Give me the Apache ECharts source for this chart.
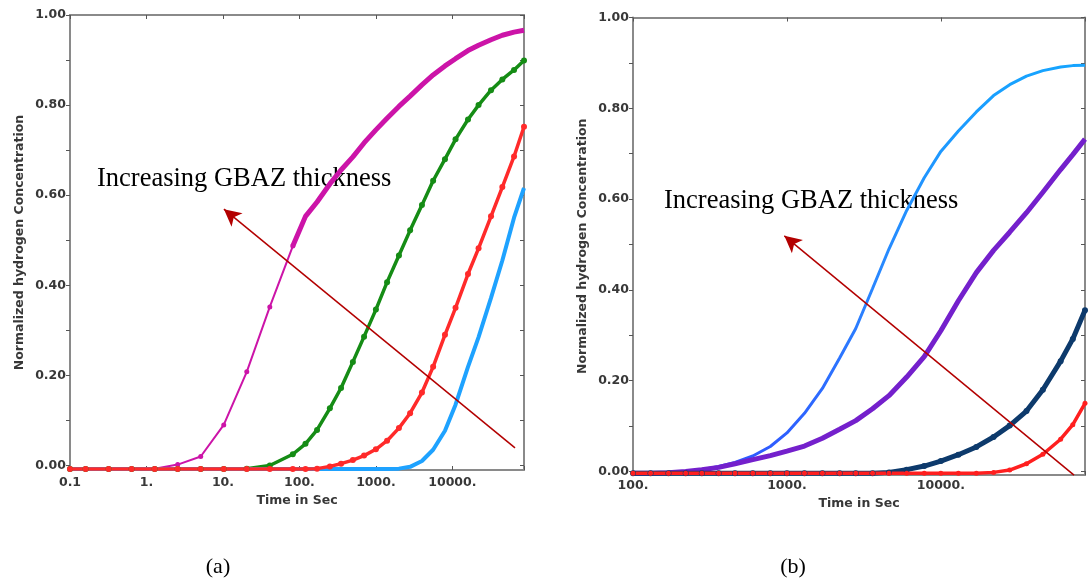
<!DOCTYPE html>
<html>
<head>
<meta charset="utf-8">
<title>Normalized hydrogen concentration vs time</title>
<script src="https://cdn.jsdelivr.net/npm/echarts@6/dist/echarts.min.js"></script>
<style>
  html, body { margin: 0; padding: 0; background: #fff; }
  #chart { width: 1088px; height: 586px; }
</style>
</head>
<body>
<div id="chart"></div>
<script>
// ---- panel (a) ----  (curves sit slightly under 0.00 before they start rising)
const timeA = [0.1, 0.16, 0.32, 0.64, 1.28, 2.56, 5.12, 10.24, 20.48, 40.96, 81.92, 120, 170, 250, 350, 500, 700,
  1000, 1400, 2000, 2800, 4000, 5600, 8000, 11000, 16000, 22000, 32000, 45000, 64000, 86400];
const magentaA = [-0.008, -0.008, -0.008, -0.008, -0.007, 0.002, 0.02, 0.09, 0.208, 0.352, 0.487, 0.553, 0.585, 0.625, 0.656, 0.685, 0.716,
  0.745, 0.771, 0.797, 0.82, 0.845, 0.867, 0.887, 0.903, 0.921, 0.933, 0.945, 0.955, 0.962, 0.966];
const greenA = [-0.008, -0.008, -0.008, -0.008, -0.008, -0.008, -0.008, -0.008, -0.007, 0.0, 0.025, 0.048, 0.079, 0.127, 0.172, 0.23, 0.286,
  0.346, 0.407, 0.466, 0.522, 0.578, 0.632, 0.68, 0.724, 0.768, 0.8, 0.833, 0.857, 0.878, 0.899];
const redA = [-0.008, -0.008, -0.008, -0.008, -0.008, -0.008, -0.008, -0.008, -0.008, -0.008, -0.008, -0.008, -0.007, -0.002, 0.004, 0.012, 0.022,
  0.036, 0.055, 0.083, 0.116, 0.162, 0.219, 0.29, 0.35, 0.425, 0.482, 0.553, 0.618, 0.686, 0.752];
const blueA = [-0.008, -0.008, -0.008, -0.008, -0.008, -0.008, -0.008, -0.008, -0.008, -0.008, -0.008, -0.008, -0.008, -0.008, -0.008, -0.008, -0.008,
  -0.008, -0.008, -0.007, -0.003, 0.01, 0.035, 0.077, 0.135, 0.219, 0.285, 0.372, 0.455, 0.55, 0.616];

// ---- panel (b) ----
const timeB = [100, 130, 170, 220, 280, 360, 460, 600, 780, 1000, 1300, 1700, 2200, 2800, 3600, 4600,
  6000, 7800, 10000, 13000, 17000, 22000, 28000, 36000, 46000, 60000, 72000, 86400];
const blueB = [-0.004, -0.004, -0.002, 0.0, 0.004, 0.011, 0.02, 0.034, 0.055, 0.085, 0.128, 0.183, 0.25, 0.315, 0.403, 0.49,
  0.575, 0.647, 0.705, 0.75, 0.792, 0.828, 0.852, 0.871, 0.883, 0.891, 0.894, 0.895];
const purpleB = [-0.004, -0.004, -0.003, 0.0, 0.004, 0.009, 0.017, 0.026, 0.035, 0.045, 0.056, 0.073, 0.093, 0.112, 0.138, 0.167,
  0.208, 0.253, 0.31, 0.376, 0.438, 0.487, 0.527, 0.57, 0.615, 0.665, 0.698, 0.732];
const navyB = [-0.004, -0.004, -0.004, -0.004, -0.004, -0.004, -0.004, -0.004, -0.004, -0.004, -0.004, -0.004, -0.004, -0.004, -0.004, -0.002,
  0.004, 0.012, 0.023, 0.037, 0.054, 0.076, 0.101, 0.133, 0.18, 0.243, 0.292, 0.355];
const redB = [-0.004, -0.004, -0.004, -0.004, -0.004, -0.004, -0.004, -0.004, -0.004, -0.004, -0.004, -0.004, -0.004, -0.004, -0.004, -0.004,
  -0.004, -0.004, -0.004, -0.004, -0.004, -0.002, 0.003, 0.017, 0.038, 0.071, 0.103, 0.15];

// axis labels
const xTicksA = [0.1, 1, 10, 100, 1000, 10000];
const xLabelsA = ['0.1', '1.', '10.', '100.', '1000.', '10000.'];
const xTicksB = [100, 1000, 10000];
const xLabelsB = ['100.', '1000.', '10000.'];
const yLabelVals = [0, 0.2, 0.4, 0.6, 0.8, 1.0];
const yTickVals = [0, 0.1, 0.2, 0.3, 0.4, 0.5, 0.6, 0.7, 0.8, 0.9, 1.0];

// annotation arrows (tail -> head), in data units
const arrowA = [[65900, 0.039], [10.3, 0.569]];
const arrowB = [[73300, -0.008], [962, 0.519]];
const noteText = 'Increasing GBAZ thickness';

const chart = echarts.init(document.getElementById('chart'));

const frameColor = '#8a8a8a';
const txt = { color: '#383838', fontFamily: 'DejaVu Sans', fontWeight: 'bold', fontSize: 12.5 };

function pairs(t, v, from, to) {
  const out = [];
  for (let i = from || 0; i < (to == null ? t.length : to); i++) out.push([t[i], v[i]]);
  return out;
}

function logLabel(ticks, labels) {
  return function (v) {
    for (let i = 0; i < ticks.length; i++) {
      if (Math.abs(v - ticks[i]) / ticks[i] < 1e-6) return labels[i];
    }
    return '';
  };
}

function xAxes(grid, min, max, ticks, labels, nameGap, margin) {
  return [
    {
      type: 'log', logBase: 10, gridIndex: grid, min: min, max: max, position: 'bottom',
      name: 'Time in Sec', nameLocation: 'middle', nameGap: nameGap, nameTextStyle: txt,
      axisLine: { onZero: false, lineStyle: { color: frameColor, width: 2 } },
      axisTick: { inside: true, length: 4, lineStyle: { color: '#555' } },
      axisLabel: Object.assign({ margin: margin, formatter: logLabel(ticks, labels),
        showMinLabel: true, showMaxLabel: true, hideOverlap: false }, txt),
      splitLine: { show: false }, minorTick: { show: false }
    },
    {
      type: 'log', logBase: 10, gridIndex: grid, min: min, max: max, position: 'top',
      axisLine: { onZero: false, lineStyle: { color: frameColor, width: 2 } },
      axisTick: { inside: true, length: 4, lineStyle: { color: '#555' } },
      axisLabel: { show: false }, splitLine: { show: false }
    }
  ];
}

function yAxes(grid, min) {
  return [
    {
      type: 'value', gridIndex: grid, min: min, max: 1, position: 'left',
      name: 'Normalized hydrogen Concentration', nameLocation: 'middle', nameGap: 44, nameTextStyle: txt,
      axisLine: { show: true, onZero: false, lineStyle: { color: frameColor, width: 2 } },
      axisTick: { show: true, inside: false, length: 4, customValues: yTickVals, lineStyle: { color: '#555' } },
      axisLabel: Object.assign({ margin: 4, customValues: yLabelVals, formatter: v => v.toFixed(2) }, txt),
      splitLine: { show: false }
    },
    {
      type: 'value', gridIndex: grid, min: min, max: 1, position: 'right',
      axisLine: { show: true, onZero: false, lineStyle: { color: frameColor, width: 2 } },
      axisTick: { show: true, inside: true, length: 4, customValues: yTickVals, lineStyle: { color: '#555' } },
      axisLabel: { show: false }, splitLine: { show: false }
    }
  ];
}

function curve(xi, data, color, width, symSize) {
  return {
    type: 'line', xAxisIndex: xi, yAxisIndex: xi, data: data,
    showSymbol: symSize > 0, symbol: 'circle', symbolSize: symSize || 0,
    itemStyle: { color: color }, lineStyle: { color: color, width: width },
    silent: true, z: 3
  };
}

function arrow(a) {
  return {
    silent: true, symbol: ['none', 'arrow'], symbolSize: [13, 17],
    label: { show: false }, emphasis: { disabled: true },
    itemStyle: { color: '#b30000' },
    lineStyle: { color: '#b30000', width: 1.5, type: 'solid' },
    data: [[{ coord: a[0] }, { coord: a[1] }]]
  };
}

const nIdx = timeA.indexOf(81.92);
const redSeriesA = curve(0, pairs(timeA, redA), '#ff2a2a', 3.5, 6);
redSeriesA.markLine = arrow(arrowA);
const redSeriesB = curve(2, pairs(timeB, redB), '#ff1f1f', 3.5, 5);
redSeriesB.markLine = arrow(arrowB);

const blueGrad = new echarts.graphic.LinearGradient(0, 1, 0, 0, [
  { offset: 0, color: '#2f55ff' }, { offset: 0.45, color: '#2a86ff' }, { offset: 1, color: '#16a4ff' }
]);

const option = {
  animation: false,
  backgroundColor: '#fff',
  grid: [
    { left: 70, top: 15, width: 454, height: 455 },
    { left: 633, top: 17.5, width: 454, height: 457.6 }
  ],
  xAxis: xAxes(0, 0.1, 86400, xTicksA, xLabelsA, 24, 6).concat(xAxes(1, 100, 86400, xTicksB, xLabelsB, 19, 4)),
  yAxis: yAxes(0, -0.01).concat(yAxes(1, -0.008)),
  series: [
    curve(0, pairs(timeA, magentaA, 0, nIdx + 1), '#cc14a8', 2, 5),
    curve(0, pairs(timeA, magentaA, nIdx), '#cc14a8', 5, 0),
    curve(0, pairs(timeA, greenA), '#158c15', 3.5, 6),
    curve(0, pairs(timeA, blueA), '#1ea2ff', 4, 0),
    redSeriesA,
    Object.assign(curve(2, pairs(timeB, blueB), '#1ea2ff', 3, 0), { lineStyle: { color: blueGrad, width: 3 } }),
    curve(2, pairs(timeB, purpleB), '#7420cc', 5, 0),
    curve(2, pairs(timeB, navyB), '#0d3a6c', 5, 6),
    redSeriesB
  ],
  graphic: [
    { type: 'text', x: 97, y: 179.5, silent: true,
      style: { text: noteText, fill: '#000', fontFamily: 'Liberation Serif', fontSize: 26.5, align: 'left', verticalAlign: 'middle' } },
    { type: 'text', x: 664, y: 201.5, silent: true,
      style: { text: noteText, fill: '#000', fontFamily: 'Liberation Serif', fontSize: 26.5, align: 'left', verticalAlign: 'middle' } },
    { type: 'text', x: 218, y: 567, silent: true,
      style: { text: '(a)', fill: '#000', fontFamily: 'Liberation Serif', fontSize: 22, align: 'center', verticalAlign: 'middle' } },
    { type: 'text', x: 793, y: 567, silent: true,
      style: { text: '(b)', fill: '#000', fontFamily: 'Liberation Serif', fontSize: 22, align: 'center', verticalAlign: 'middle' } }
  ]
};

chart.setOption(option);
</script>
</body>
</html>
